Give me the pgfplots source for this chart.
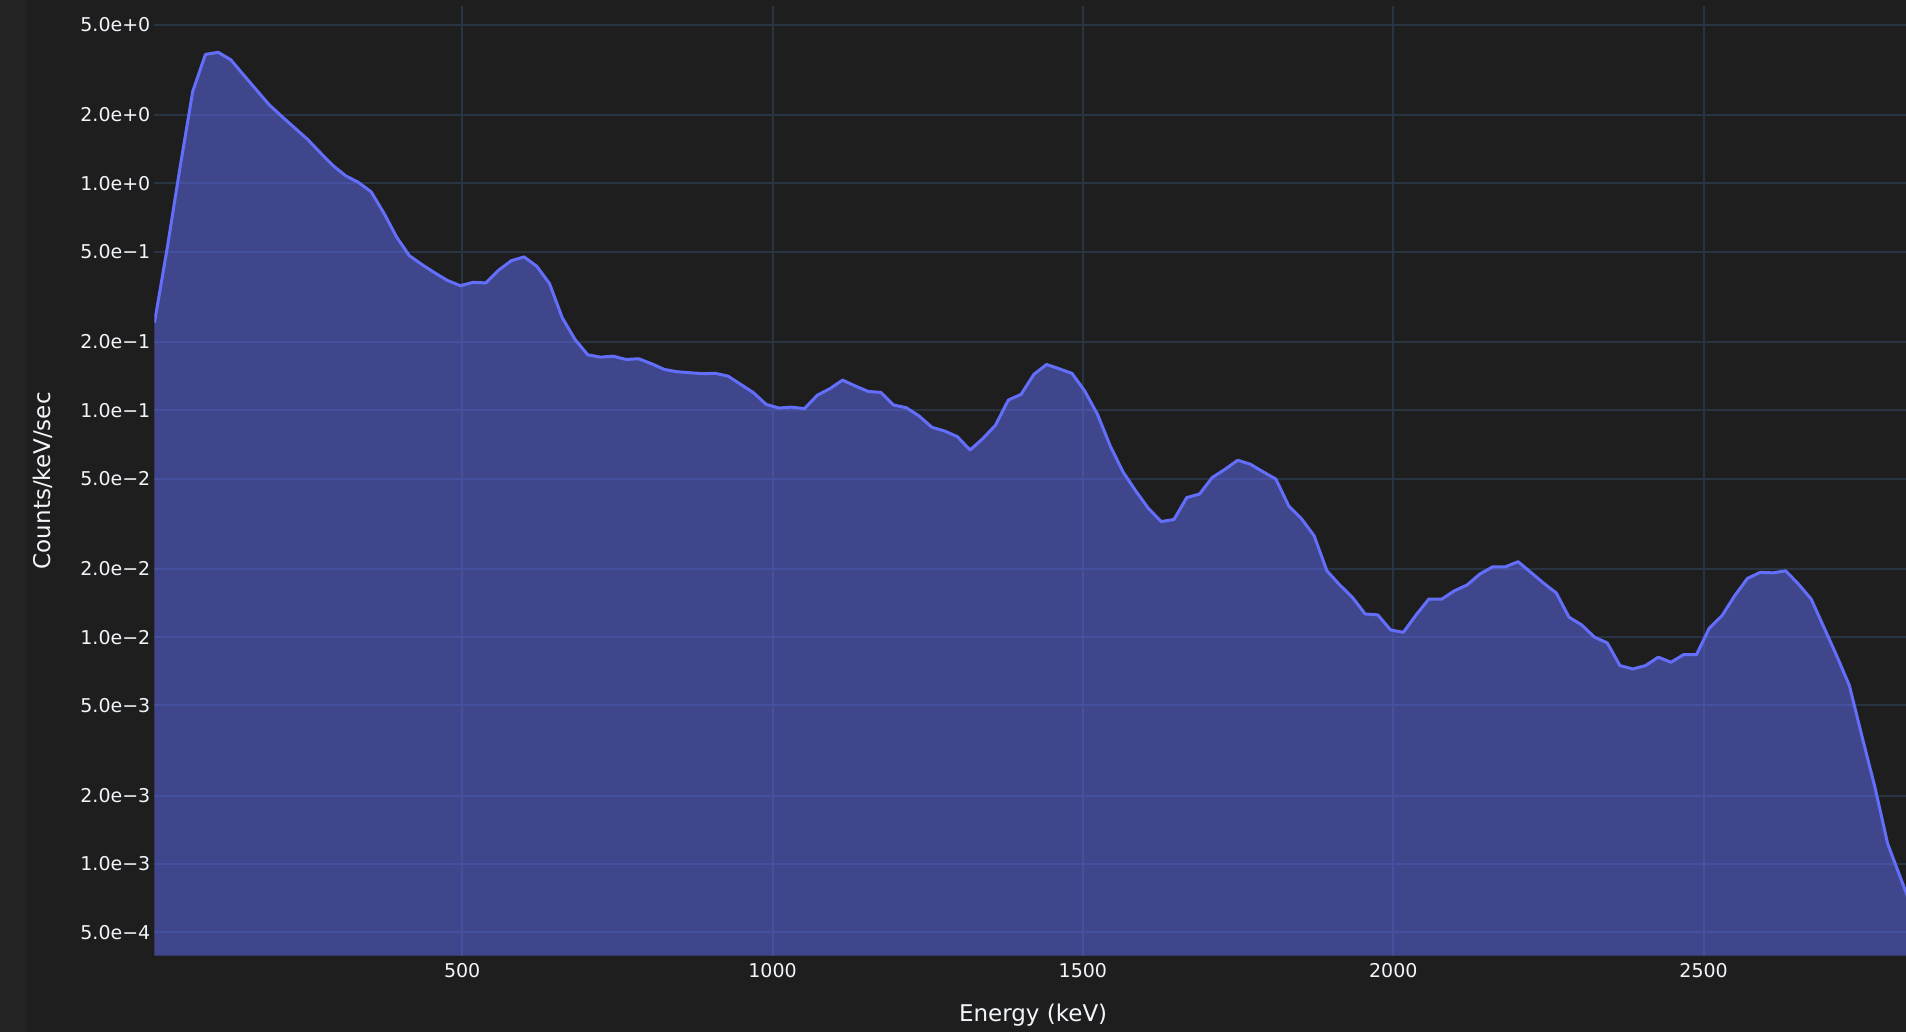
\documentclass[border=0pt]{standalone}
\usepackage{fontspec}
\setmainfont{DejaVu Sans}
\usepackage{pgfplots}
\usepackage{pgfplotstable}
\pgfplotsset{compat=1.18}
\definecolor{bgcol}{RGB}{30,30,30}
\definecolor{stripcol}{RGB}{35,35,35}
\definecolor{gridcol}{HTML}{283442}
\definecolor{linecol}{HTML}{636EFA}
\definecolor{textcol}{HTML}{F2F5FA}

\pgfplotstableread{
x y
4.3 0.243
24.83 0.519
45.36 1.17
65.89 2.54
86.42 3.70
106.95 3.78
127.48 3.50
148.01 3.00
168.54 2.58
189.07 2.22
209.6 1.97
230.13 1.756
250.66 1.565
271.19 1.367
291.72 1.198
312.25 1.08
332.78 1.01
353.31 0.918
373.84 0.740
394.37 0.580
414.9 0.480
435.43 0.438
455.96 0.403
476.49 0.373
497.02 0.354
517.55 0.366
538.08 0.364
558.61 0.414
579.14 0.456
599.67 0.474
620.2 0.431
640.73 0.3615
661.26 0.2555
681.79 0.205
702.32 0.1755
722.85 0.1714
743.38 0.173
763.91 0.1674
784.44 0.1686
804.97 0.1603
825.5 0.1513
846.03 0.1478
866.56 0.1463
887.09 0.1449
907.62 0.1454
928.15 0.1414
948.68 0.130
969.21 0.1195
989.74 0.1061
1010.27 0.1022
1030.8 0.1032
1051.33 0.1016
1071.86 0.1163
1092.39 0.1245
1112.92 0.1358
1133.45 0.1278
1153.98 0.121
1174.51 0.1198
1195.04 0.1054
1215.57 0.1026
1236.1 0.0943
1256.63 0.0841
1277.16 0.0810
1297.69 0.0765
1318.22 0.0668
1338.75 0.0750
1359.28 0.0860
1379.81 0.1109
1400.34 0.1174
1420.87 0.1438
1441.4 0.1591
1461.93 0.1523
1482.46 0.1453
1502.99 0.1215
1523.52 0.0959
1544.05 0.0696
1564.58 0.0535
1585.11 0.0441
1605.64 0.0369
1626.17 0.0323
1646.7 0.0330
1667.23 0.0412
1687.76 0.0427
1708.29 0.0505
1728.82 0.0549
1749.35 0.0602
1769.88 0.0578
1790.41 0.0535
1810.94 0.0497
1831.47 0.0379
1852.0 0.0333
1872.53 0.02796
1893.06 0.0196
1913.59 0.0170
1934.12 0.01498
1954.65 0.01265
1975.18 0.01253
1995.71 0.01075
2016.24 0.0105
2036.77 0.01253
2057.3 0.01472
2077.83 0.01469
2098.36 0.0160
2118.89 0.01697
2139.42 0.01897
2159.95 0.0204
2180.48 0.0204
2201.01 0.0215
2221.54 0.0193
2242.07 0.01731
2262.6 0.01565
2283.13 0.01224
2303.66 0.01131
2324.19 0.00999
2344.72 0.00943
2365.25 0.00749
2385.78 0.00724
2406.31 0.00749
2426.84 0.00816
2447.37 0.00775
2467.9 0.00838
2488.43 0.00837
2508.96 0.01094
2529.49 0.01243
2550.02 0.01522
2570.55 0.01815
2591.08 0.0193
2611.61 0.0192
2632.14 0.0196
2652.67 0.01714
2673.2 0.01472
2693.73 0.01105
2714.26 0.00829
2734.79 0.00612
2755.32 0.00363
2775.85 0.002186
2796.38 0.00123
2816.91 0.000873
2837.44 0.000618
}\spectrum

\begin{document}
\begin{tikzpicture}[x=1pt,y=1pt]
\fill[bgcol] (0,0) rectangle (953,516);
\fill[stripcol] (0,0) rectangle (13.35,516);
\begin{axis}[
  at={(77.15pt,38.15pt)}, anchor=south west,
  scale only axis, width=875.85pt, height=475pt,
  xmin=4, xmax=2826,
  ymode=log, ymin=3.944e-4, ymax=6.064,
  log origin=infty,
  axis line style={draw=none},
  major tick length=0pt,
  tick style={draw=none},
  grid=major,
  grid style={color=gridcol, line width=1pt},
  xtick={500,1000,1500,2000,2500},
  xticklabels={500,1000,1500,2000,2500},
  ytick={5e-4,1e-3,2e-3,5e-3,1e-2,2e-2,5e-2,0.1,0.2,0.5,1,2,5},
  yticklabels={5.0e−4,1.0e−3,2.0e−3,5.0e−3,1.0e−2,2.0e−2,5.0e−2,1.0e−1,2.0e−1,5.0e−1,1.0e+0,2.0e+0,5.0e+0},
  minor ytick={},
  ticklabel style={font=\fontsize{9.5}{11}\selectfont, text=textcol, inner sep=0pt},
  xticklabel style={anchor=north, yshift=-3.65pt},
  yticklabel style={anchor=east, xshift=-1.8pt},
  xlabel={Energy (keV)},
  ylabel={Counts/keV/sec},
  label style={font=\fontsize{11.5}{13}\selectfont, text=textcol, inner sep=0pt},
  xlabel style={at={(axis description cs:0.5017,-0.06874)}, anchor=base},
  ylabel style={at={(axis description cs:-0.05954,0.5)}, anchor=base, rotate=0},
]
\addplot[draw=none, fill=linecol, fill opacity=0.5] table {\spectrum} \closedcycle;
\addplot[linecol, line width=1.5pt, line join=round] table {\spectrum};
\end{axis}
\pgfresetboundingbox
\path[use as bounding box] (0,0) rectangle (953,516);
\end{tikzpicture}
\end{document}
